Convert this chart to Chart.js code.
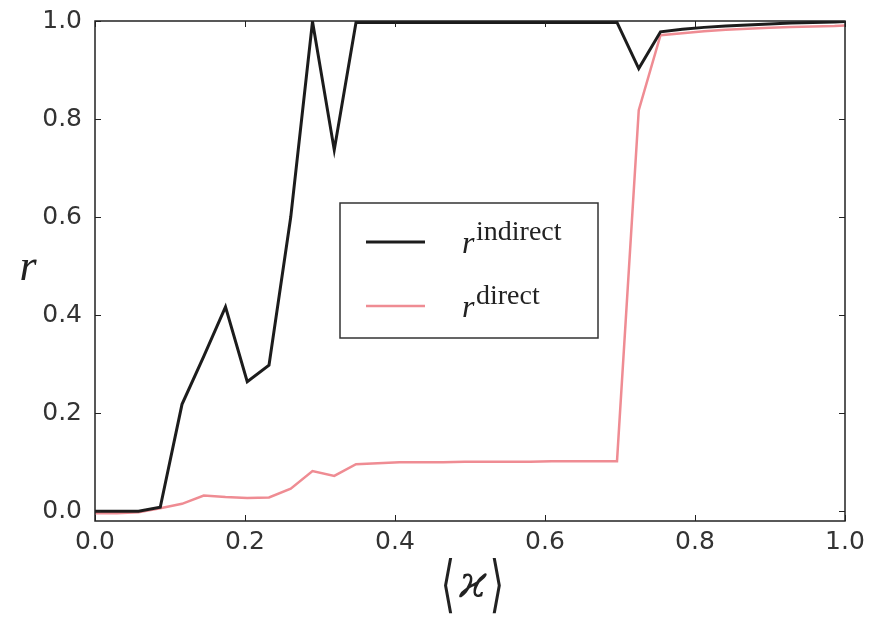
<!DOCTYPE html>
<html>
<head>
<meta charset="utf-8">
<script src="https://cdn.jsdelivr.net/npm/chart.js@4.4.1/dist/chart.umd.min.js"></script>
<style>
  html, body { margin: 0; padding: 0; background: #fff; }
  #wrap { width: 879px; height: 618px; }
</style>
</head>
<body>
<div id="wrap"><canvas id="ChartR"></canvas></div>
<script>
// <kappa> values and the two r curves
var kappa = [0, 0.029, 0.058, 0.087, 0.116, 0.145, 0.174, 0.203, 0.232, 0.261,
             0.29, 0.319, 0.348, 0.377, 0.406, 0.435, 0.464, 0.493, 0.522, 0.551,
             0.58, 0.609, 0.638, 0.667, 0.696, 0.725, 0.754, 0.783, 0.812, 0.841,
             0.87, 0.899, 0.928, 0.957, 0.986, 1.0];
var rIndirect = [0.0, 0.0, 0.0, 0.008, 0.218, 0.316, 0.417, 0.264, 0.298, 0.6,
                 0.999, 0.737, 0.997, 0.997, 0.997, 0.997, 0.997, 0.997, 0.997, 0.997,
                 0.997, 0.997, 0.997, 0.997, 0.997, 0.903, 0.978, 0.983, 0.987, 0.99,
                 0.992, 0.994, 0.996, 0.997, 0.998, 0.999];
var rDirect = [-0.004, -0.004, -0.002, 0.006, 0.015, 0.032, 0.029, 0.027, 0.028, 0.046,
               0.082, 0.072, 0.096, 0.098, 0.1, 0.1, 0.1, 0.101, 0.101, 0.101,
               0.101, 0.102, 0.102, 0.102, 0.102, 0.818, 0.971, 0.975, 0.979, 0.982,
               0.984, 0.986, 0.988, 0.989, 0.99, 0.991];
var xTicks = [0, 0.2, 0.4, 0.6, 0.8, 1.0];
var yTicks = [0, 0.2, 0.4, 0.6, 0.8, 1.0];

function toPoints(xs, ys) {
    return xs.map(function (x, i) { return { x: x, y: ys[i] }; });
}

var framePlugin = {
    id: 'frame',
    afterDatasetsDraw: function (chart) {
        var ctx = chart.ctx, a = chart.chartArea;
        var sx = chart.scales.x, sy = chart.scales.y;
        ctx.save();
        ctx.strokeStyle = '#222';
        ctx.lineWidth = 1.5;
        ctx.strokeRect(a.left, a.top, a.right - a.left, a.bottom - a.top);
        // inward ticks on all four sides
        ctx.lineWidth = 1;
        ctx.beginPath();
        xTicks.forEach(function (v) {
            var px = Math.round(sx.getPixelForValue(v)) + 0.5;
            ctx.moveTo(px, a.bottom); ctx.lineTo(px, a.bottom - 6);
            ctx.moveTo(px, a.top); ctx.lineTo(px, a.top + 6);
        });
        yTicks.forEach(function (v) {
            var py = Math.round(sy.getPixelForValue(v)) + 0.5;
            ctx.moveTo(a.left, py); ctx.lineTo(a.left + 6, py);
            ctx.moveTo(a.right, py); ctx.lineTo(a.right - 6, py);
        });
        ctx.stroke();
        ctx.restore();
    },
    afterDraw: function (chart) {
        var ctx = chart.ctx;
        ctx.save();
        ctx.fillStyle = '#222';
        // axis labels
        ctx.textAlign = 'center';
        ctx.textBaseline = 'alphabetic';
        ctx.font = 'italic 44px "Liberation Serif"';
        ctx.fillText('r', 28, 280);

        ctx.font = '46px "DejaVu Sans"';
        ctx.save();
        ctx.translate(448, 605);
        ctx.scale(0.8, 1.35);
        ctx.fillText('\u27E8', 0, 0);
        ctx.restore();
        ctx.save();
        ctx.translate(497, 605);
        ctx.scale(0.8, 1.35);
        ctx.fillText('\u27E9', 0, 0);
        ctx.restore();
        ctx.font = 'italic 44px "DejaVu Serif"';
        ctx.fillText('\u03F0', 473, 597);

        // legend box
        ctx.strokeStyle = '#333';
        ctx.lineWidth = 1.5;
        ctx.fillStyle = '#fff';
        ctx.fillRect(340, 203, 258, 135);
        ctx.strokeRect(340, 203, 258, 135);
        var rows = [
            { ds: chart.data.datasets[0], y: 242, sup: 'indirect' },
            { ds: chart.data.datasets[1], y: 306, sup: 'direct' }
        ];
        rows.forEach(function (row) {
            ctx.strokeStyle = row.ds.borderColor;
            ctx.lineWidth = row.ds.borderWidth;
            ctx.beginPath();
            ctx.moveTo(366, row.y);
            ctx.lineTo(425, row.y);
            ctx.stroke();
            ctx.fillStyle = '#222';
            ctx.textAlign = 'left';
            ctx.font = 'italic 32px "Liberation Serif"';
            ctx.fillText('r', 462, row.y + 11);
            ctx.font = '28px "Liberation Serif"';
            ctx.fillText(row.sup, 476, row.y - 2);
        });
        ctx.restore();
    }
};

new Chart(document.getElementById('ChartR'), {
    type: 'line',
    data: {
        datasets: [{
            label: 'r indirect',
            data: toPoints(kappa, rIndirect),
            borderColor: '#1c1c1c',
            borderWidth: 3,
            pointRadius: 0,
            tension: 0,
            fill: false
        }, {
            label: 'r direct',
            data: toPoints(kappa, rDirect),
            borderColor: '#ef8c93',
            borderWidth: 2.5,
            pointRadius: 0,
            tension: 0,
            fill: false
        }]
    },
    options: {
        responsive: true,
        maintainAspectRatio: false,
        animation: false,
        layout: { padding: { top: 21, right: 34, left: 0, bottom: 0 } },
        plugins: {
            legend: { display: false },
            tooltip: { enabled: false }
        },
        scales: {
            x: {
                type: 'linear',
                min: 0,
                max: 1,
                grid: { display: false },
                border: { display: false },
                afterBuildTicks: function (scale) {
                    scale.ticks = xTicks.map(function (v) { return { value: v }; });
                },
                afterFit: function (scale) { scale.height = 97; },
                ticks: {
                    padding: -2,
                    color: '#333',
                    font: { family: 'DejaVu Sans', size: 25 },
                    callback: function (v) { return v.toFixed(1); }
                }
            },
            y: {
                min: -0.02,
                max: 1.0,
                grid: { display: false },
                border: { display: false },
                afterBuildTicks: function (scale) {
                    scale.ticks = yTicks.map(function (v) { return { value: v }; });
                },
                afterFit: function (scale) { scale.width = 95; },
                ticks: {
                    padding: 5,
                    color: '#333',
                    font: { family: 'DejaVu Sans', size: 25 },
                    callback: function (v) { return v.toFixed(1); }
                }
            }
        }
    },
    plugins: [framePlugin]
});
</script>
</body>
</html>
